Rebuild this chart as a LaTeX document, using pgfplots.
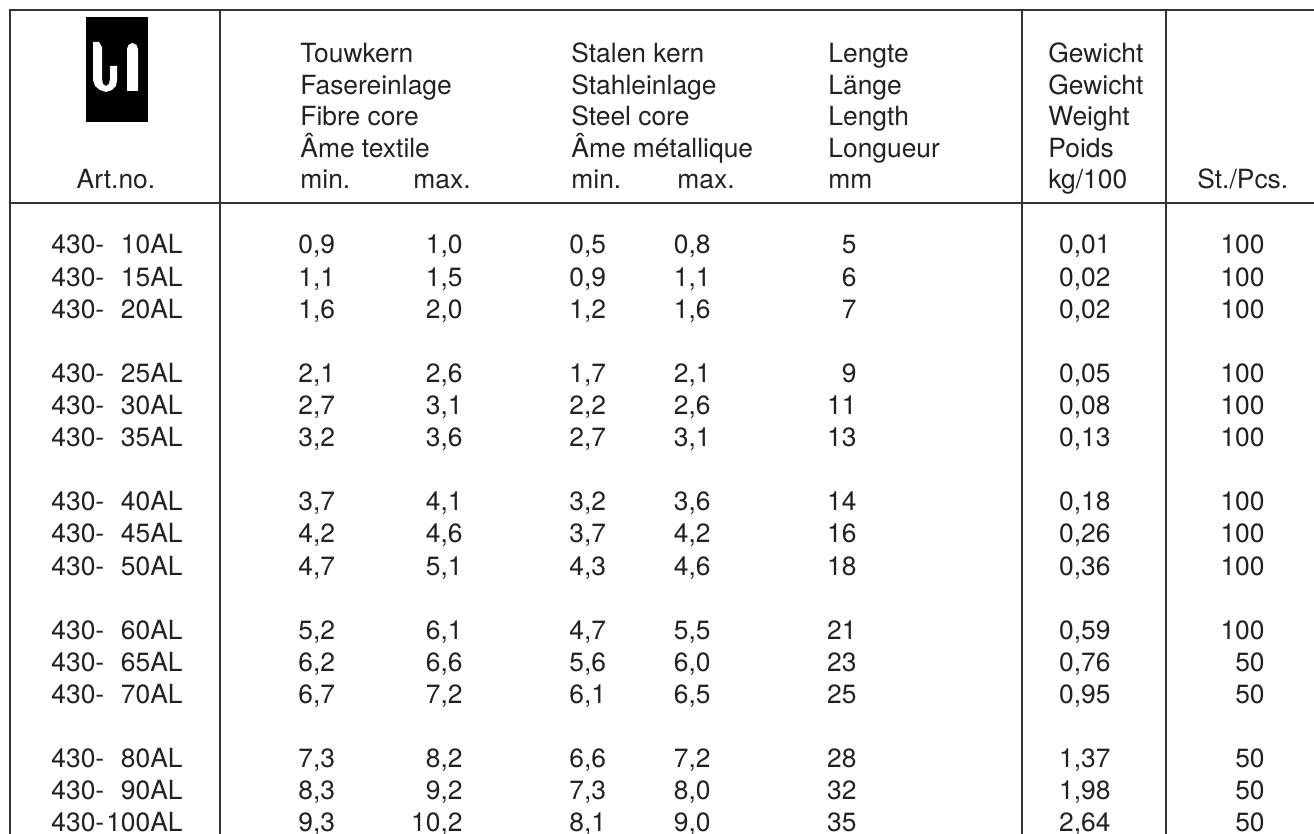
\documentclass[border=0pt]{standalone}
\usepackage{pgfplots}
\pgfplotsset{compat=1.18}
\usepackage{pgfplotstable}
\usepackage{fontspec}
\setmainfont{TeX Gyre Heros}
\definecolor{ink}{HTML}{222222}
\definecolor{rulec}{HTML}{333333}

% baseline y (px from top), article, fibre core min/max, steel core min/max, length, weight, pieces
\pgfplotstableread{
y     art   fmin fmax smin smax len wt   pcs
254.0 10AL  0,9  1,0  0,5  0,8  5   0,01 100
286.1 15AL  1,1  1,5  0,9  1,1  6   0,02 100
318.2 20AL  1,6  2,0  1,2  1,6  7   0,02 100
382.4 25AL  2,1  2,6  1,7  2,1  9   0,05 100
414.5 30AL  2,7  3,1  2,2  2,6  11  0,08 100
446.6 35AL  3,2  3,6  2,7  3,1  13  0,13 100
510.8 40AL  3,7  4,1  3,2  3,6  14  0,18 100
542.9 45AL  4,2  4,6  3,7  4,2  16  0,26 100
575.0 50AL  4,7  5,1  4,3  4,6  18  0,36 100
639.2 60AL  5,2  6,1  4,7  5,5  21  0,59 100
671.3 65AL  6,2  6,6  5,6  6,0  23  0,76 50
703.4 70AL  6,7  7,2  6,1  6,5  25  0,95 50
767.6 80AL  7,3  8,2  6,6  7,2  28  1,37 50
799.7 90AL  8,3  9,2  7,3  8,0  32  1,98 50
831.8 100AL 9,3  10,2 8,1  9,0  35  2,64 50
}\rows

\tikzset{hdr/.style={font=\fontsize{13.2}{15}\selectfont, text=ink, inner sep=0pt}}

\begin{document}
\begin{tikzpicture}
\useasboundingbox (0,0) rectangle (657pt,417pt);
\begin{axis}[
  width=657pt, height=417pt, scale only axis,
  xmin=0, xmax=1314, ymin=0, ymax=834, y dir=reverse,
  hide axis, clip=false,
  tbl/.style={only marks, mark=*, mark size=0pt, mark options={draw=none,fill=none},
    point meta=explicit symbolic, nodes near coords,
    nodes near coords align={anchor=#1},
    every node near coord/.append style={font=\fontsize{13.2}{15}\selectfont, text=ink, inner sep=0pt, anchor=#1}},
  rl/.style={rulec, line width=1pt, mark=none},
]
% table rules
\addplot[rl] coordinates {(10,834) (10,10) (1314,10)};
\addplot[rl] coordinates {(10,203) (1314,203)};
\addplot[rl] coordinates {(220,10) (220,834)};
\addplot[rl] coordinates {(1022,10) (1022,834)};
\addplot[rl] coordinates {(1166,10) (1166,834)};

% logo
\addplot[fill=black, draw=none, mark=none] coordinates {(86,17) (148,17) (148,122) (86,122)} -- cycle;
\addplot[fill=white, draw=none, mark=none] coordinates {
  (93,42) (99,42) (102,47) (102,79) (103,84) (106,86) (109,84) (110,79) (110,66)
  (117,66) (117,80) (116,86) (112,90) (106,92) (100,90) (95,86) (93,80)} -- cycle;
\addplot[fill=white, draw=none, mark=none] coordinates {
  (127,91) (127,49) (128.5,45) (132.5,43) (136.5,45) (138,49) (138,91)} -- cycle;

% data columns
\addplot[tbl=base west, nodes near coords={430-}] table[x expr=51, y=y, meta=art] {\rows};
\addplot[tbl=base east] table[x expr=183, y=y, meta=art] {\rows};
\addplot[tbl=base west] table[x expr=298, y=y, meta=fmin] {\rows};
\addplot[tbl=base east] table[x expr=463, y=y, meta=fmax] {\rows};
\addplot[tbl=base west] table[x expr=569, y=y, meta=smin] {\rows};
\addplot[tbl=base east] table[x expr=711, y=y, meta=smax] {\rows};
\addplot[tbl=base east] table[x expr=857, y=y, meta=len] {\rows};
\addplot[tbl=base east] table[x expr=1111, y=y, meta=wt] {\rows};
\addplot[tbl=base east] table[x expr=1265, y=y, meta=pcs] {\rows};

% header texts
\node[hdr, anchor=base] at (axis cs:116,189) {Art.no.};
\node[hdr, anchor=base west] at (axis cs:300,63) {Touwkern};
\node[hdr, anchor=base west] at (axis cs:300,94.5) {Fasereinlage};
\node[hdr, anchor=base west] at (axis cs:300,126) {Fibre core};
\node[hdr, anchor=base west] at (axis cs:300,157.5) {Âme textile};
\node[hdr, anchor=base west] at (axis cs:300,189) {min.};
\node[hdr, anchor=base west] at (axis cs:413,189) {max.};
\node[hdr, anchor=base west] at (axis cs:571,63) {Stalen kern};
\node[hdr, anchor=base west] at (axis cs:571,94.5) {Stahleinlage};
\node[hdr, anchor=base west] at (axis cs:571,126) {Steel core};
\node[hdr, anchor=base west] at (axis cs:571,157.5) {Âme métallique};
\node[hdr, anchor=base west] at (axis cs:571,189) {min.};
\node[hdr, anchor=base west] at (axis cs:677,189) {max.};
\node[hdr, anchor=base west] at (axis cs:828,63) {Lengte};
\node[hdr, anchor=base west] at (axis cs:828,94.5) {Länge};
\node[hdr, anchor=base west] at (axis cs:828,126) {Length};
\node[hdr, anchor=base west] at (axis cs:828,157.5) {Longueur};
\node[hdr, anchor=base west] at (axis cs:828,189) {mm};
\node[hdr, anchor=base west] at (axis cs:1048,63) {Gewicht};
\node[hdr, anchor=base west] at (axis cs:1048,94.5) {Gewicht};
\node[hdr, anchor=base west] at (axis cs:1048,126) {Weight};
\node[hdr, anchor=base west] at (axis cs:1048,157.5) {Poids};
\node[hdr, anchor=base west] at (axis cs:1048,189) {kg/100};
\node[hdr, anchor=base west] at (axis cs:1197,189) {St./Pcs.};
\end{axis}
\end{tikzpicture}
\end{document}
